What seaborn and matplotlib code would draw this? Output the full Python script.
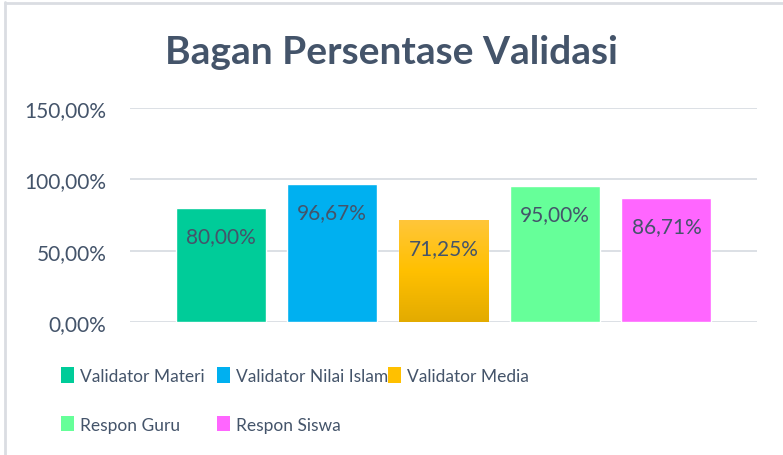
import numpy as np
import pandas as pd
import matplotlib
matplotlib.use("Agg")
import matplotlib.pyplot as plt
from matplotlib.lines import Line2D
from matplotlib.patches import Patch
from matplotlib.colors import LinearSegmentedColormap
import seaborn as sns

# Data
categories = ["Validator Materi", "Validator Nilai Islam", "Validator Media",
              "Respon Guru", "Respon Siswa"]
values = [80.00, 96.67, 71.25, 95.00, 86.71]
labels = ["80,00%", "96,67%", "71,25%", "95,00%", "86,71%"]
yticks = [0, 50, 100, 150]
ytick_labels = ["0,00%", "50,00%", "100,00%", "150,00%"]

colors = ["#00CC99", "#00B0F0", "#FFC000", "#66FF99", "#FF66FF"]
text_color = "#44546A"

sns.set_style("white")
plt.rcParams["font.family"] = ["Lato", "DejaVu Sans"]

fig = plt.figure(figsize=(7.83, 4.56), dpi=100)
W, H = 783, 456
ax = fig.add_axes([130 / W, (H - 323) / H, (757 - 130) / W, 214 / H])

df = pd.DataFrame({"grp": [""] * len(values), "kategori": categories, "nilai": values})
sns.barplot(data=df, x="grp", y="nilai", hue="kategori", palette=colors,
            width=0.889, gap=0.193, saturation=1, legend=False, ax=ax)

ax.set_xlim(-0.5, 0.5)
ax.set_ylim(0, 150)
ax.set_yticks(yticks)
ax.set_yticklabels(ytick_labels, color=text_color, fontsize=15)
ax.set_xticks([])
ax.set_xlabel("")
ax.set_ylabel("")
ax.tick_params(axis="y", length=0, pad=17)
ax.grid(axis="y", color="#D9DDE3", linewidth=1.3)
ax.set_axisbelow(True)
for s in ax.spines.values():
    s.set_visible(False)

# gradient on the gold bar
bars = ax.patches
gold = bars[2]
cmap = LinearSegmentedColormap.from_list("gold", ["#E3AB00", "#FFC000", "#FFC63A"])
x0, w = gold.get_x(), gold.get_width()
h = gold.get_height()
grad = np.linspace(0, 1, 256).reshape(-1, 1)
im = ax.imshow(grad, cmap=cmap, aspect="auto", origin="lower",
               extent=[x0, x0 + w, 0, h], zorder=gold.get_zorder())
im.set_clip_path(gold)
ax.set_xlim(-0.5, 0.5)
ax.set_ylim(0, 150)

# data labels inside the bars
for bar, lab in zip(bars, labels):
    ax.annotate(lab, (bar.get_x() + bar.get_width() / 2, bar.get_height()),
                xytext=(0, -28), textcoords="offset pixels",
                ha="center", va="center", color=text_color, fontsize=15, zorder=5)

fig.text(0.5, (H - 52) / H, "Bagan Persentase Validasi", ha="center", va="center",
         fontsize=28, fontweight="bold", color=text_color)

# legend: three columns placed like the original
handles = [Patch(facecolor=c, edgecolor="none") for c in colors]
cols = [[0, 3], [1, 4], [2]]
col_x = [61, 217, 388]
for cx, idx in zip(col_x, cols):
    leg = fig.legend([handles[i] for i in idx], [categories[i] for i in idx],
                     loc="upper left", bbox_to_anchor=(cx / W, (H - 368) / H),
                     frameon=False, fontsize=12.5, labelcolor=text_color,
                     handlelength=0.75, handleheight=1.0, handletextpad=0.35,
                     labelspacing=1.85, borderaxespad=0, borderpad=0)

# chart frame (only top/left edges visible)
fig.add_artist(Line2D([5 / W, 5 / W], [0, (H - 3) / H], color="#DADDE2", lw=2))
fig.add_artist(Line2D([5 / W, 1], [(H - 3.5) / H, (H - 3.5) / H], color="#DADDE2", lw=2))

fig.savefig("out.png", dpi=100)
